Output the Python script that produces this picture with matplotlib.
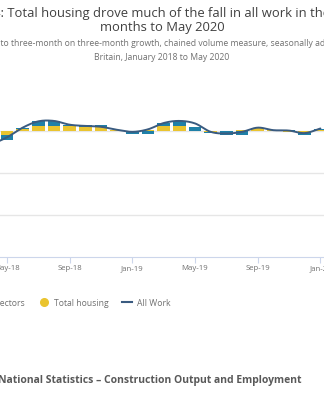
import numpy as np
import matplotlib.pyplot as plt

plt.rcParams['font.family'] = ['Open Sans', 'DejaVu Sans']

# monthly contributions, Apr 2018 to Jan 2020 (the visible part of the chart)
months = ["Apr-18", "May-18", "Jun-18", "Jul-18", "Aug-18", "Sep-18", "Oct-18",
          "Nov-18", "Dec-18", "Jan-19", "Feb-19", "Mar-19", "Apr-19", "May-19",
          "Jun-19", "Jul-19", "Aug-19", "Sep-19", "Oct-19", "Nov-19", "Dec-19",
          "Jan-20"]
other_sectors = [-0.8, -0.6, 0.15, 0.6, 0.6, 0.15, 0.3, 0.25, -0.05, -0.35, -0.3,
                 0.35, 0.6, 0.5, -0.1, -0.45, -0.45, 0.05, 0.05, 0.1, -0.3, 0.1]
total_housing = [-0.8, -0.5, 0.2, 0.55, 0.6, 0.55, 0.45, 0.45, 0.1, 0.05, 0.15,
                 0.55, 0.6, -0.05, -0.1, 0.05, 0.15, 0.3, 0.1, -0.15, -0.2, 0.15]
all_work = [-1.6, -0.75, 0.4, 1.15, 1.2, 0.75, 0.6, 0.5, 0.15, -0.1, 0.2,
            0.95, 1.2, 0.9, -0.1, -0.3, -0.1, 0.4, 0.1, 0.05, -0.25, 0.3]
tick_labels = ["May-18", "Sep-18", "Jan-19", "May-19", "Sep-19", "Jan-20"]

BLUE = '#1f80a8'
YELLOW = '#eac42f'
LINE = '#3a5b80'
GREY = '#707070'


def spline(y, n=20):
    # catmull-rom curve through the points, like the highcharts spline
    y = np.asarray(y, dtype=float)
    p = np.concatenate([[2 * y[0] - y[1]], y, [2 * y[-1] - y[-2]]])
    xs, ys = [], []
    for i in range(len(y) - 1):
        p0, p1, p2, p3 = p[i], p[i + 1], p[i + 2], p[i + 3]
        t = np.linspace(0, 1, n, endpoint=False)
        ys.append(0.5 * (2 * p1 + (-p0 + p2) * t + (2 * p0 - 5 * p1 + 4 * p2 - p3) * t ** 2
                         + (-p0 + 3 * p1 - 3 * p2 + p3) * t ** 3))
        xs.append(i + t)
    xs.append([len(y) - 1])
    ys.append([y[-1]])
    return np.concatenate(xs), np.concatenate(ys)


fig = plt.figure(figsize=(3.24, 4.0), dpi=100)
W, H = 324, 400
# the chart is wider than the picture: it runs off both sides
ax = fig.add_axes([-63.5 / W, (H - 257) / H, 454.4 / W, 168 / H])

x = np.arange(len(months))
oth = np.array(other_sectors)
hou = np.array(total_housing)

# stack positives up from zero and negatives down from zero, housing first
pos_base = np.zeros(len(x))
neg_base = np.zeros(len(x))
hb = np.where(hou >= 0, pos_base, neg_base)
ax.bar(x, hou, 0.8, bottom=hb, color=YELLOW, zorder=2)
pos_base += np.where(hou > 0, hou, 0)
neg_base += np.where(hou < 0, hou, 0)
ob = np.where(oth >= 0, pos_base, neg_base)
ax.bar(x, oth, 0.8, bottom=ob, color=BLUE, zorder=2)

sx, sy = spline(all_work)
ax.plot(sx, sy, color=LINE, lw=1.4, zorder=3, solid_capstyle='round')

ax.set_xlim(-3.5, 25.5)
ax.set_ylim(-15, 5)
ax.set_yticks([-10, -5, 0])
ax.yaxis.grid(True, color='#e6e6e6', lw=1)
ax.set_axisbelow(True)
ax.tick_params(axis='y', length=0, labelleft=False)

ax.set_xticks([months.index(m) for m in tick_labels])
ax.set_xticklabels(tick_labels, fontsize=5.6, color=GREY)
ax.tick_params(axis='x', length=4, width=0.8, color='#ccd6eb', pad=2)
for s in ['top', 'right', 'left']:
    ax.spines[s].set_visible(False)
ax.spines['bottom'].set_color('#ccd6eb')
ax.spines['bottom'].set_linewidth(0.8)
ax.patch.set_alpha(0)

# titles
fig.text(159 / W, 1 - 14 / H,
         "Figure 4: Total housing drove much of the fall in all work in the three",
         ha='center', va='center', fontsize=9.4, color='#404040')
fig.text(162 / W, 1 - 28 / H, "months to May 2020",
         ha='center', va='center', fontsize=9.4, color='#404040')
fig.text(162 / W, 1 - 44 / H,
         "Contribution to three-month on three-month growth, chained volume measure, seasonally adjusted, Great",
         ha='center', va='center', fontsize=6.25, color=GREY)
fig.text(162 / W, 1 - 57 / H, "Britain, January 2018 to May 2020",
         ha='center', va='center', fontsize=6.25, color=GREY)

# legend
handles = [
    plt.Line2D([], [], ls='none', marker='o', ms=5.5, color=BLUE),
    plt.Line2D([], [], ls='none', marker='o', ms=5.5, color=YELLOW),
    plt.Line2D([], [], color=LINE, lw=1.5),
]
fig.legend(handles, ["All other sectors", "Total housing", "All Work"],
           loc='center left', bbox_to_anchor=(-63 / W, 1 - 303 / H), ncol=3,
           frameon=False, fontsize=6.2, labelcolor=GREY, handlelength=1.2,
           handletextpad=0.5, columnspacing=1.6)

fig.text(301 / W, 1 - 380 / H,
         "Source: Office for National Statistics \u2013 Construction Output and Employment",
         ha='right', va='center', fontsize=7.45, fontweight='bold', color='#595959')

fig.savefig('out.png', dpi=100)
